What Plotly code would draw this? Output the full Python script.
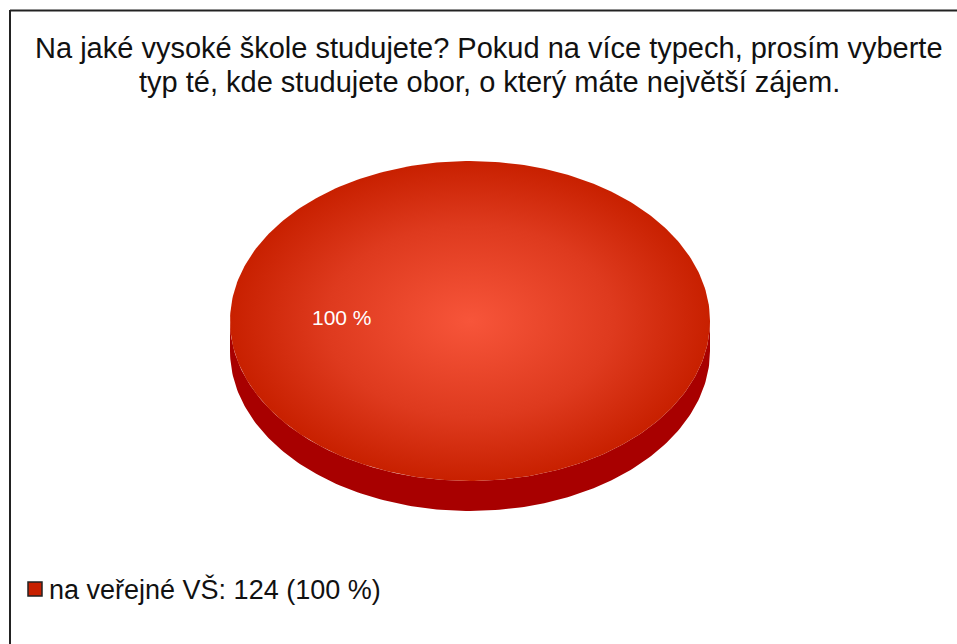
import numpy as np
import plotly.graph_objects as go

# Survey answers
categories = ["na veřejné VŠ"]
counts = [124]
colors_top = ["#C82000"]
colors_light = ["#F7553A"]
colors_side = ["#A80000"]

title_lines = ["Na jaké vysoké škole studujete? Pokud na více typech, prosím vyberte",
               "typ té, kde studujete obor, o který máte největší zájem."]

FONT = "Liberation Sans, Arial"
W, H = 957, 644
cx, cy = 470, 321        # centre of the top face (px)
rx, ry = 240, 160        # radii of the top face
depth = 30               # thickness of the pie

total = sum(counts)
fig = go.Figure()

start = 180 - 180 * counts[0] / total  # first slice centred on the left
angle = start
legend_y = 589
for i, (cat, val, ctop, clight, cside) in enumerate(
        zip(categories, counts, colors_top, colors_light, colors_side)):
    frac = val / total
    a0, a1 = angle, angle + 360 * frac
    t = np.radians(np.linspace(a0, a1, 361))
    ex = cx + rx * np.cos(t)
    ey = cy - ry * np.sin(t)

    # visible side wall: lower half of the outline
    tb = np.radians(np.linspace(180, 360, 181))
    sx = cx + rx * np.cos(tb)
    sy = cy - ry * np.sin(tb)
    wall_x = np.concatenate([sx, sx[::-1]])
    wall_y = np.concatenate([sy, (sy + depth)[::-1]])
    fig.add_trace(go.Scatter(x=wall_x, y=wall_y, mode="lines", fill="toself",
                             fillcolor=cside, line=dict(width=0, color=cside),
                             hoverinfo="skip", showlegend=False))

    # top face with radial shading
    if frac < 1:
        ex = np.concatenate([[cx], ex, [cx]])
        ey = np.concatenate([[cy], ey, [cy]])
    fig.add_trace(go.Scatter(x=ex, y=ey, mode="lines", fill="toself",
                             fillgradient=dict(type="radial",
                                               colorscale=[[0, clight], [0.6, "#DE3A1E"], [1, ctop]]),
                             line=dict(width=0, color=ctop),
                             hoverinfo="skip", showlegend=False))

    # percentage label at the slice's mid angle
    mid = np.radians((a0 + a1) / 2)
    fig.add_annotation(x=cx + 0.535 * rx * np.cos(mid), y=cy - 0.535 * ry * np.sin(mid) - 4,
                       text=f"{round(frac * 100)} %", showarrow=False,
                       font=dict(family=FONT, size=21, color="white"))

    # legend entry: swatch + label
    ly = legend_y + 30 * i
    fig.add_shape(type="rect", xref="x", yref="y", x0=28, x1=42, y0=ly - 7, y1=ly + 7,
                  fillcolor=ctop, line=dict(color="#222222", width=1.5))
    fig.add_annotation(x=47, y=ly, xanchor="left", yanchor="middle", showarrow=False,
                       text=f"{cat}: {val} ({round(frac * 100)} %)",
                       font=dict(family=FONT, size=27, color="#111111"))
    angle = a1

# chart title, one annotation per line
for k, line in enumerate(title_lines):
    fig.add_annotation(x=489, y=48 + 34 * k, xanchor="center", yanchor="middle",
                       showarrow=False, text=line,
                       font=dict(family=FONT, size=29, color="#111111"))

# frame lines (top and left)
fig.add_shape(type="line", xref="x", yref="y", x0=10, y0=10.5, x1=W, y1=10.5,
              line=dict(color="#222222", width=2))
fig.add_shape(type="line", xref="x", yref="y", x0=10, y0=10, x1=10, y1=H,
              line=dict(color="#222222", width=2))

fig.update_layout(
    width=W, height=H,
    margin=dict(l=0, r=0, t=0, b=0),
    paper_bgcolor="white", plot_bgcolor="white",
    xaxis=dict(range=[0, W], visible=False, fixedrange=True),
    yaxis=dict(range=[H, 0], visible=False, fixedrange=True),
    showlegend=False,
)

fig.write_html("out.html")
